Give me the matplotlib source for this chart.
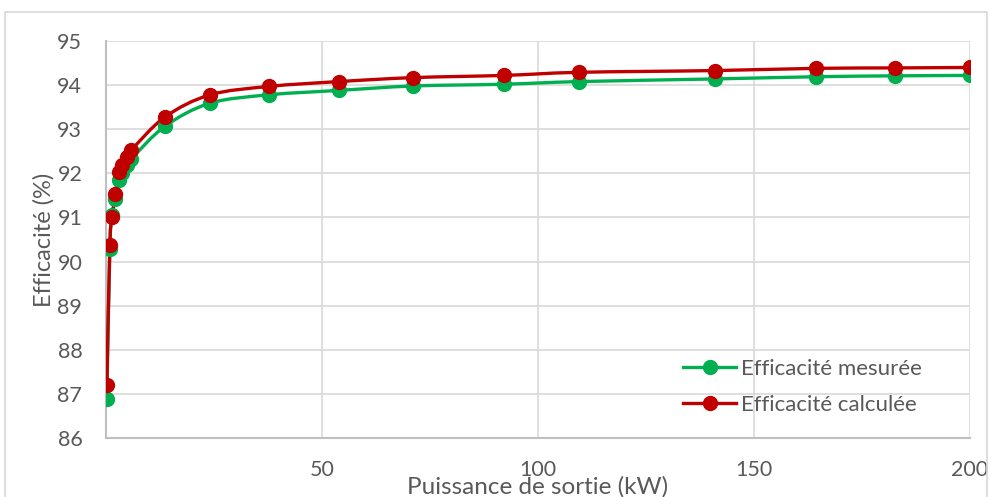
import matplotlib.pyplot as plt
from matplotlib.path import Path
from matplotlib.patches import PathPatch, Rectangle
from matplotlib.lines import Line2D

# Données
puissance = [0.2, 0.9, 1.4, 2.2, 3.0, 3.8, 4.8, 5.9, 13.7, 24.1, 37.7, 53.9, 71.1,
             92.1, 109.5, 141.0, 164.4, 182.6, 200.0]
eff_mesuree = [86.88, 90.28, 91.05, 91.42, 91.85, 92.0, 92.18, 92.33, 93.07, 93.59,
               93.78, 93.88, 93.98, 94.02, 94.08, 94.14, 94.19, 94.21, 94.22]
eff_calculee = [87.2, 90.37, 91.0, 91.53, 92.03, 92.2, 92.37, 92.53, 93.28, 93.78,
                93.97, 94.08, 94.17, 94.22, 94.29, 94.33, 94.38, 94.39, 94.40]

vert = '#00B050'
rouge = '#C00000'
gris = '#595959'

plt.rcParams['font.family'] = ['Lato', 'DejaVu Sans']


def courbe_lisse(x, y):
    # courbe de Bézier type Catmull-Rom (lissage façon Excel)
    verts = [(x[0], y[0])]
    codes = [Path.MOVETO]
    n = len(x)
    for i in range(n - 1):
        x0, y0 = (x[i - 1], y[i - 1]) if i > 0 else (x[i], y[i])
        x3, y3 = (x[i + 2], y[i + 2]) if i + 2 < n else (x[i + 1], y[i + 1])
        c1 = (x[i] + (x[i + 1] - x0) / 6, y[i] + (y[i + 1] - y0) / 6)
        c2 = (x[i + 1] - (x3 - x[i]) / 6, y[i + 1] - (y3 - y[i]) / 6)
        verts += [c1, c2, (x[i + 1], y[i + 1])]
        codes += [Path.CURVE4] * 3
    return Path(verts, codes)


fig = plt.figure(figsize=(9.94, 4.97), dpi=100)
ax = fig.add_axes([0.1066, 0.1187, 0.8693, 0.7988])

for y, c in [(eff_mesuree, vert), (eff_calculee, rouge)]:
    ax.add_patch(PathPatch(courbe_lisse(puissance, y), facecolor='none',
                           edgecolor=c, lw=2.4, zorder=3))
    ax.plot(puissance, y, 'o', color=c, markersize=10, zorder=4)

ax.set_xlim(0, 200)
ax.set_ylim(86, 95)
ax.set_xticks([50, 100, 150, 200])
ax.set_yticks(range(86, 96))
ax.grid(True, color='#D9D9D9', lw=1.2)
ax.set_axisbelow(True)
for s in ['top', 'right']:
    ax.spines[s].set_visible(False)
for s in ['left', 'bottom']:
    ax.spines[s].set_color('#BFBFBF')
    ax.spines[s].set_linewidth(1.5)
ax.tick_params(length=0, labelsize=15.5, labelcolor=gris)
ax.tick_params(axis='x', pad=16)
ax.tick_params(axis='y', pad=17)

ax.set_ylabel('Efficacité (%)', fontsize=17, color=gris, labelpad=2)
fig.text(0.541, 0.02, 'Puissance de sortie (kW)', fontsize=17.5, color=gris,
         ha='center', va='center')
fig.text(0.553, 1.024, '(a)', fontsize=18, color='black', ha='center', va='center')

handles = [Line2D([], [], color=vert, lw=2.4, marker='o', markersize=10),
           Line2D([], [], color=rouge, lw=2.4, marker='o', markersize=10)]
fig.legend(handles, ['Efficacité mesurée', 'Efficacité calculée'], loc='upper left',
           bbox_to_anchor=(683 / 994, 1 - 359 / 497), frameon=False, fontsize=16,
           labelcolor=gris, handlelength=2.4, handletextpad=0.2, labelspacing=0.7,
           borderpad=0, borderaxespad=0)

fig.add_artist(Rectangle((0.005, -0.05), 0.988, 1.025, transform=fig.transFigure,
                         fill=False, edgecolor='#D9D9D9', lw=1.2))

fig.savefig('out.png', dpi=100)
